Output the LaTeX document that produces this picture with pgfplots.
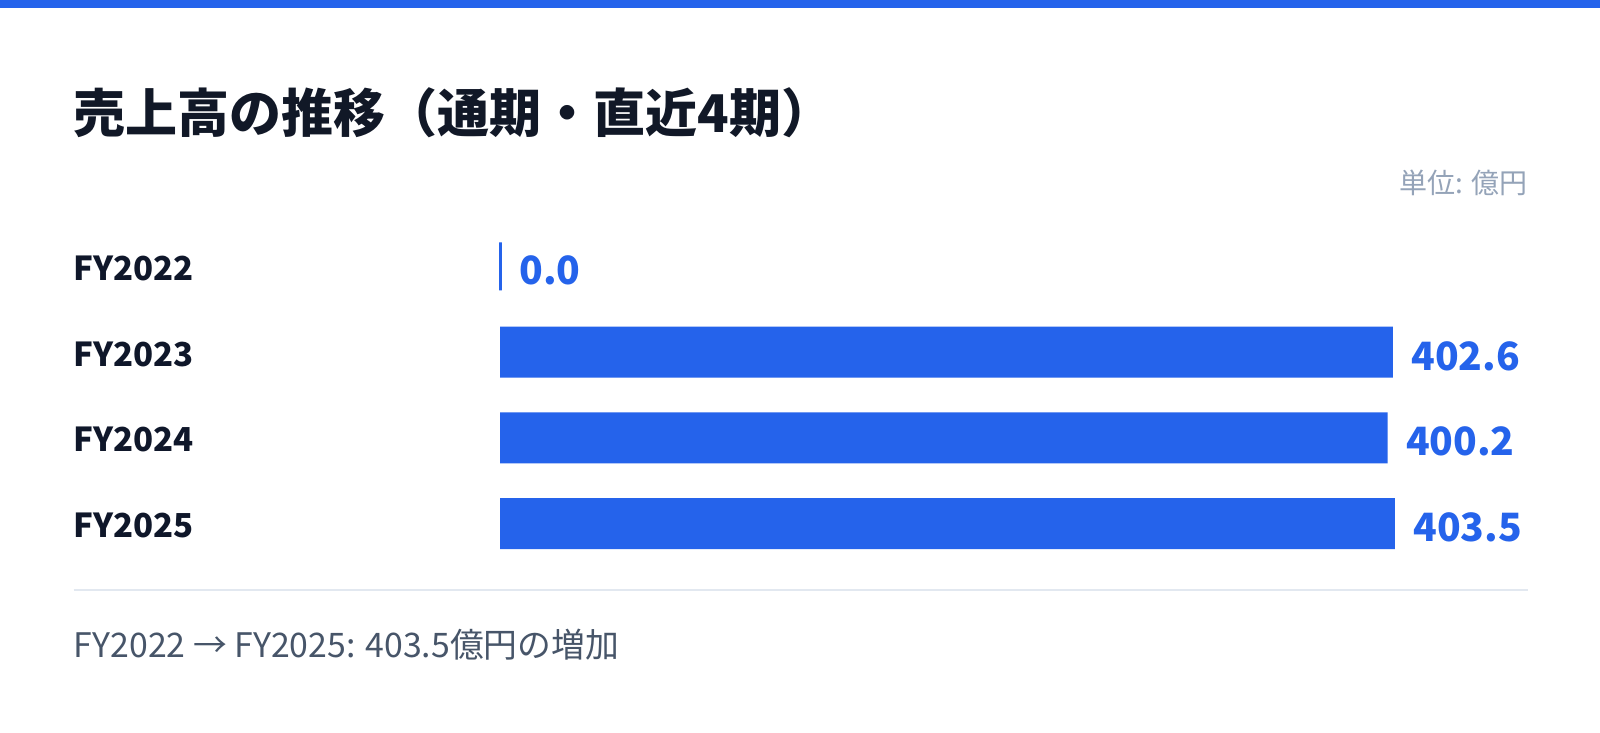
\documentclass[border=0pt]{standalone}
\usepackage{fontspec}
\setmainfont{Noto Sans CJK JP}
\usepackage{pgfplots}
\pgfplotsset{compat=1.18}

\definecolor{barblue}{HTML}{2563EB}
\definecolor{titlecol}{HTML}{111827}
\definecolor{labelcol}{HTML}{0F172A}
\definecolor{unitgray}{HTML}{94A3B8}
\definecolor{footcol}{HTML}{475569}
\definecolor{rulecol}{HTML}{E2E8F0}

\begin{document}
\begin{tikzpicture}[x=1pt,y=1pt]
  % page and top strip
  \fill[white] (0,0) rectangle (800,366.5);
  \fill[barblue] (0,362.5) rectangle (800,366.5);

  \node[anchor=west, inner sep=0pt, text=titlecol,
        font=\fontsize{26}{30}\selectfont\bfseries] at (36.75,310)
        {売上高の推移（通期・直近4期）};
  \node[anchor=east, inner sep=0pt, text=unitgray,
        font=\fontsize{14}{17}\selectfont] at (764,275)
        {単位: 億円};

  \begin{axis}[
      at={(250pt,83.3pt)}, anchor=south west,
      scale only axis,
      width=514pt, height=171.5pt,
      xmin=0, xmax=463.5,
      ymin=-0.5, ymax=3.5,
      y dir=reverse,
      hide x axis,
      axis y line*=left,
      y axis line style={draw=none},
      major tick length=0pt,
      ytick={0,1,2,3},
      yticklabels={FY2022,FY2023,FY2024,FY2025},
      yticklabel style={anchor=west, inner sep=0pt, xshift=-213.25pt, yshift=-1pt,
        text=labelcol, font=\fontsize{16.5}{20}\selectfont\bfseries},
      clip=false,
      point meta=x,
      nodes near coords={\pgfmathprintnumber[fixed,fixed zerofill,precision=1,assume math mode=true]{\pgfplotspointmeta}},
      nodes near coords style={anchor=west, inner sep=0pt, xshift=9pt, yshift=-2pt,
        text=barblue, font=\fontsize{19.5}{23}\selectfont\bfseries},
    ]
    % FY2023-FY2025
    \addplot[xbar, bar shift=0pt, bar width=25.5pt, fill=barblue, draw=none]
      coordinates {(402.6,1) (400.2,2) (403.5,3)};
    % FY2022 (zero)
    \addplot[xbar, bar shift=0pt, bar width=24pt, fill=barblue, draw=barblue, line width=1.5pt]
      coordinates {(0,0)};
  \end{axis}

  \draw[rulecol, line width=1pt] (36.75,71.5) -- (764,71.5);
  \node[anchor=west, inner sep=0pt, text=footcol,
        font=\fontsize{16.9}{20}\selectfont] at (36.75,44)
        {FY2022 → FY2025: 403.5億円の増加};

  \pgfresetboundingbox
  \useasboundingbox (0,0) rectangle (800,366.5);
\end{tikzpicture}
\end{document}
